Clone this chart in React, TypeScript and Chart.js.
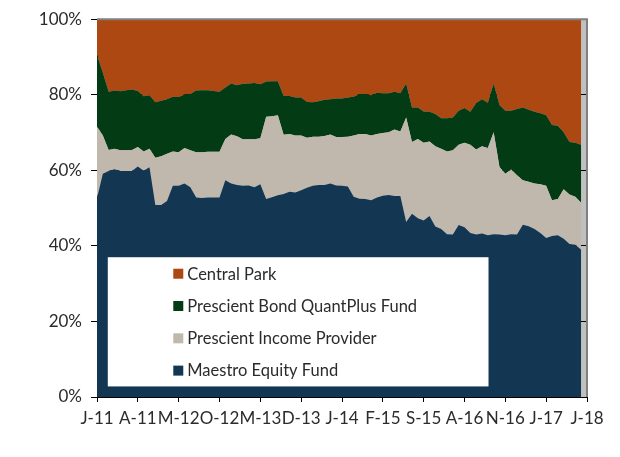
import React, { useEffect, useRef } from "react";
import { Chart, registerables } from "chart.js";

Chart.register(...registerables);

const YEARS = ["11", "12", "13", "14", "15", "16", "17"];
const MONTHS = ["Jan", "Feb", "Mar", "Apr", "May", "Jun", "Jul", "Aug", "Sep", "Oct", "Nov", "Dec"];
const categories: string[] = [...YEARS.flatMap((y) => MONTHS.map((m) => `${m}-${y}`)), "Jan-18"];

const tickLabels = ["J-11", "A-11", "M-12", "O-12", "M-13", "D-13", "J-14", "F-15", "S-15", "A-16", "N-16", "J-17", "J-18"];

const seriesNames = ["Maestro Equity Fund", "Prescient Income Provider", "Prescient Bond QuantPlus Fund", "Central Park"];
const seriesColors = ["#133753", "#C0B8AD", "#023B14", "#AD4813"];

const maestro = [
  52.6, 59.1, 59.8, 60.3, 59.8, 59.8, 59.8, 61.0, 59.9, 60.8, 50.8, 50.8,
  51.9, 55.9, 55.9, 56.5, 55.5, 52.8, 52.7, 52.8, 52.8, 52.8, 57.4, 56.5,
  56.1, 55.9, 56.0, 55.5, 56.3, 52.4, 52.9, 53.4, 53.7, 54.3, 54.1, 54.7,
  55.4, 55.9, 56.1, 56.1, 56.5, 56.0, 55.9, 55.7, 53.0, 52.5, 52.4, 52.1,
  52.8, 53.3, 53.5, 53.2, 53.2, 46.3, 48.5, 47.3, 46.7, 47.9, 45.1, 44.5,
  43.1, 43.0, 45.5, 44.9, 43.4, 43.0, 43.3, 42.8, 43.1, 43.0, 42.8, 43.1,
  43.0, 45.6, 45.2, 44.5, 43.4, 42.1, 42.6, 42.8, 41.9, 40.5, 40.3, 39.0,
];
const incomeProvider = [
  19.0, 10.1, 5.6, 5.4, 5.5, 5.5, 5.6, 5.2, 5.1, 4.9, 12.5, 12.9,
  12.5, 9.1, 8.9, 9.4, 9.8, 12.0, 12.1, 12.1, 12.1, 12.1, 10.9, 13.0,
  12.9, 12.3, 12.2, 12.7, 12.2, 21.8, 21.4, 21.2, 15.7, 15.3, 15.1, 14.5,
  13.2, 13.0, 12.8, 13.0, 13.0, 12.8, 12.9, 13.2, 16.2, 17.1, 17.2, 17.1,
  16.8, 16.6, 16.6, 17.6, 17.1, 27.7, 19.0, 21.0, 20.6, 19.7, 21.3, 21.2,
  21.9, 22.3, 21.3, 22.4, 23.4, 22.5, 23.1, 23.1, 27.0, 17.9, 16.3, 17.1,
  15.7, 11.8, 11.8, 12.0, 12.9, 13.8, 9.5, 9.6, 13.1, 13.1, 12.7, 12.4,
];
const bondQuantPlus = [
  19.0, 16.6, 15.4, 15.4, 15.6, 15.9, 16.0, 14.8, 14.6, 14.2, 14.7, 14.7,
  14.4, 14.5, 14.6, 14.2, 14.9, 16.3, 16.4, 16.3, 16.1, 15.9, 13.6, 13.5,
  13.5, 14.7, 14.8, 14.9, 14.3, 9.3, 9.3, 9.0, 10.3, 10.1, 10.1, 10.1,
  9.5, 9.1, 9.4, 9.6, 9.3, 10.2, 10.2, 10.4, 10.3, 10.6, 10.6, 10.7,
  10.9, 10.5, 10.3, 10.0, 10.1, 9.0, 9.1, 8.3, 8.3, 7.9, 8.5, 8.1,
  8.8, 8.7, 9.0, 9.2, 8.7, 12.3, 12.4, 12.0, 12.9, 16.4, 16.7, 15.6,
  17.5, 19.2, 19.0, 19.0, 18.8, 18.7, 19.9, 19.4, 15.1, 13.9, 14.3, 15.4,
];
const centralPark = [
  9.4, 14.2, 19.2, 18.9, 19.1, 18.8, 18.6, 19.0, 20.4, 20.1, 22.0, 21.6,
  21.2, 20.5, 20.6, 19.9, 19.8, 18.9, 18.8, 18.8, 19.0, 19.2, 18.1, 17.0,
  17.5, 17.1, 17.0, 16.9, 17.2, 16.5, 16.4, 16.4, 20.3, 20.3, 20.7, 20.7,
  21.9, 22.0, 21.7, 21.3, 21.2, 21.0, 21.0, 20.7, 20.5, 19.8, 19.8, 20.1,
  19.5, 19.6, 19.6, 19.2, 19.6, 17.0, 23.4, 23.4, 24.4, 24.5, 25.1, 26.2,
  26.2, 26.0, 24.2, 23.5, 24.5, 22.2, 21.2, 22.1, 17.0, 22.7, 24.2, 24.2,
  23.8, 23.4, 24.0, 24.5, 24.9, 25.4, 28.0, 28.2, 29.9, 32.5, 32.7, 33.2,
];
const seriesValues = [maestro, incomeProvider, bondQuantPlus, centralPark];

const yTicks = { min: 0, max: 100, step: 20 };

const FONT = "Lato, 'Noto Sans', sans-serif";
const TEXT_COLOR = "#2b2b2b";

const framePlugin = {
  id: "frame",
  beforeDraw(chart: any) {
    const { ctx, chartArea: a } = chart;
    ctx.save();
    ctx.fillStyle = "#C0C0C0";
    ctx.fillRect(a.left, a.top, a.right - a.left, a.bottom - a.top);
    ctx.restore();
  },
  afterDatasetsDraw(chart: any) {
    const { ctx, chartArea: a } = chart;
    ctx.save();
    ctx.strokeStyle = "#808080";
    ctx.lineWidth = 2;
    ctx.beginPath();
    ctx.moveTo(a.left, a.top);
    ctx.lineTo(a.right, a.top);
    ctx.lineTo(a.right, a.bottom);
    ctx.stroke();
    ctx.restore();
  },
  afterDraw(chart: any) {
    const { ctx, chartArea: a } = chart;
    const w = a.right - a.left;
    const h = a.bottom - a.top;
    const bx = a.left + w * 0.022;
    const by = a.top + h * 0.63;
    const bw = w * 0.777;
    const bh = h * 0.342;
    ctx.save();
    ctx.fillStyle = "#FFFFFF";
    ctx.fillRect(bx, by, bw, bh);
    ctx.font = `16.5px ${FONT}`;
    ctx.textBaseline = "middle";
    ctx.textAlign = "left";
    const order = [3, 2, 1, 0];
    const rowH = 32.3;
    const sx = bx + 65.5;
    order.forEach((si, k) => {
      const cy = by + 16.5 + k * rowH;
      ctx.fillStyle = seriesColors[si];
      ctx.fillRect(sx, cy - 5, 10, 10);
      ctx.fillStyle = TEXT_COLOR;
      ctx.fillText(seriesNames[si], sx + 14, cy + 0.5);
    });
    ctx.restore();
  },
};

export default function App() {
  const ref = useRef<HTMLCanvasElement | null>(null);
  useEffect(() => {
    if (!ref.current) return;
    const chart = new Chart(ref.current, {
      type: "line",
      data: {
        labels: categories,
        datasets: seriesValues.map((vals, i) => ({
          label: seriesNames[i],
          data: vals,
          backgroundColor: seriesColors[i],
          borderColor: seriesColors[i],
          borderWidth: 0,
          pointRadius: 0,
          tension: 0,
          fill: i === 0 ? "origin" : "-1",
        })),
      },
      options: {
        responsive: false,
        animation: false,
        layout: { padding: { top: 16, right: 33, left: 0, bottom: 0 } },
        plugins: { legend: { display: false }, tooltip: { enabled: false } },
        scales: {
          x: {
            type: "category",
            offset: false,
            afterFit: (s: any) => { s.height = 60; },
            grid: {
              drawOnChartArea: false,
              drawTicks: true,
              tickLength: 5,
              tickColor: (c: any) => (c.index % 7 === 0 ? "#000000" : "rgba(0,0,0,0)"),
            },
            border: { color: "#000000", width: 1 },
            ticks: {
              autoSkip: false,
              maxRotation: 0,
              minRotation: 0,
              padding: 6,
              color: TEXT_COLOR,
              font: { family: FONT, size: 17 },
              callback: (_v: any, idx: number) => (idx % 7 === 0 ? tickLabels[idx / 7] : ""),
            },
          },
          y: {
            stacked: true,
            min: yTicks.min,
            max: yTicks.max,
            afterFit: (s: any) => { s.width = 97; },
            grid: { color: "#000000", lineWidth: 1, tickLength: 6, tickColor: "#000000" },
            border: { color: "#000000", width: 1 },
            ticks: {
              stepSize: yTicks.step,
              padding: 9,
              color: TEXT_COLOR,
              font: { family: FONT, size: 17 },
              callback: (v: any) => `${v}%`,
            },
          },
        },
      },
      plugins: [framePlugin],
    });
    return () => chart.destroy();
  }, []);
  return (
    <div style={{ position: "absolute", left: 0, top: 0, width: 620, height: 457, background: "#fff" }}>
      <canvas ref={ref} width={620} height={457} style={{ display: "block" }} />
    </div>
  );
}
